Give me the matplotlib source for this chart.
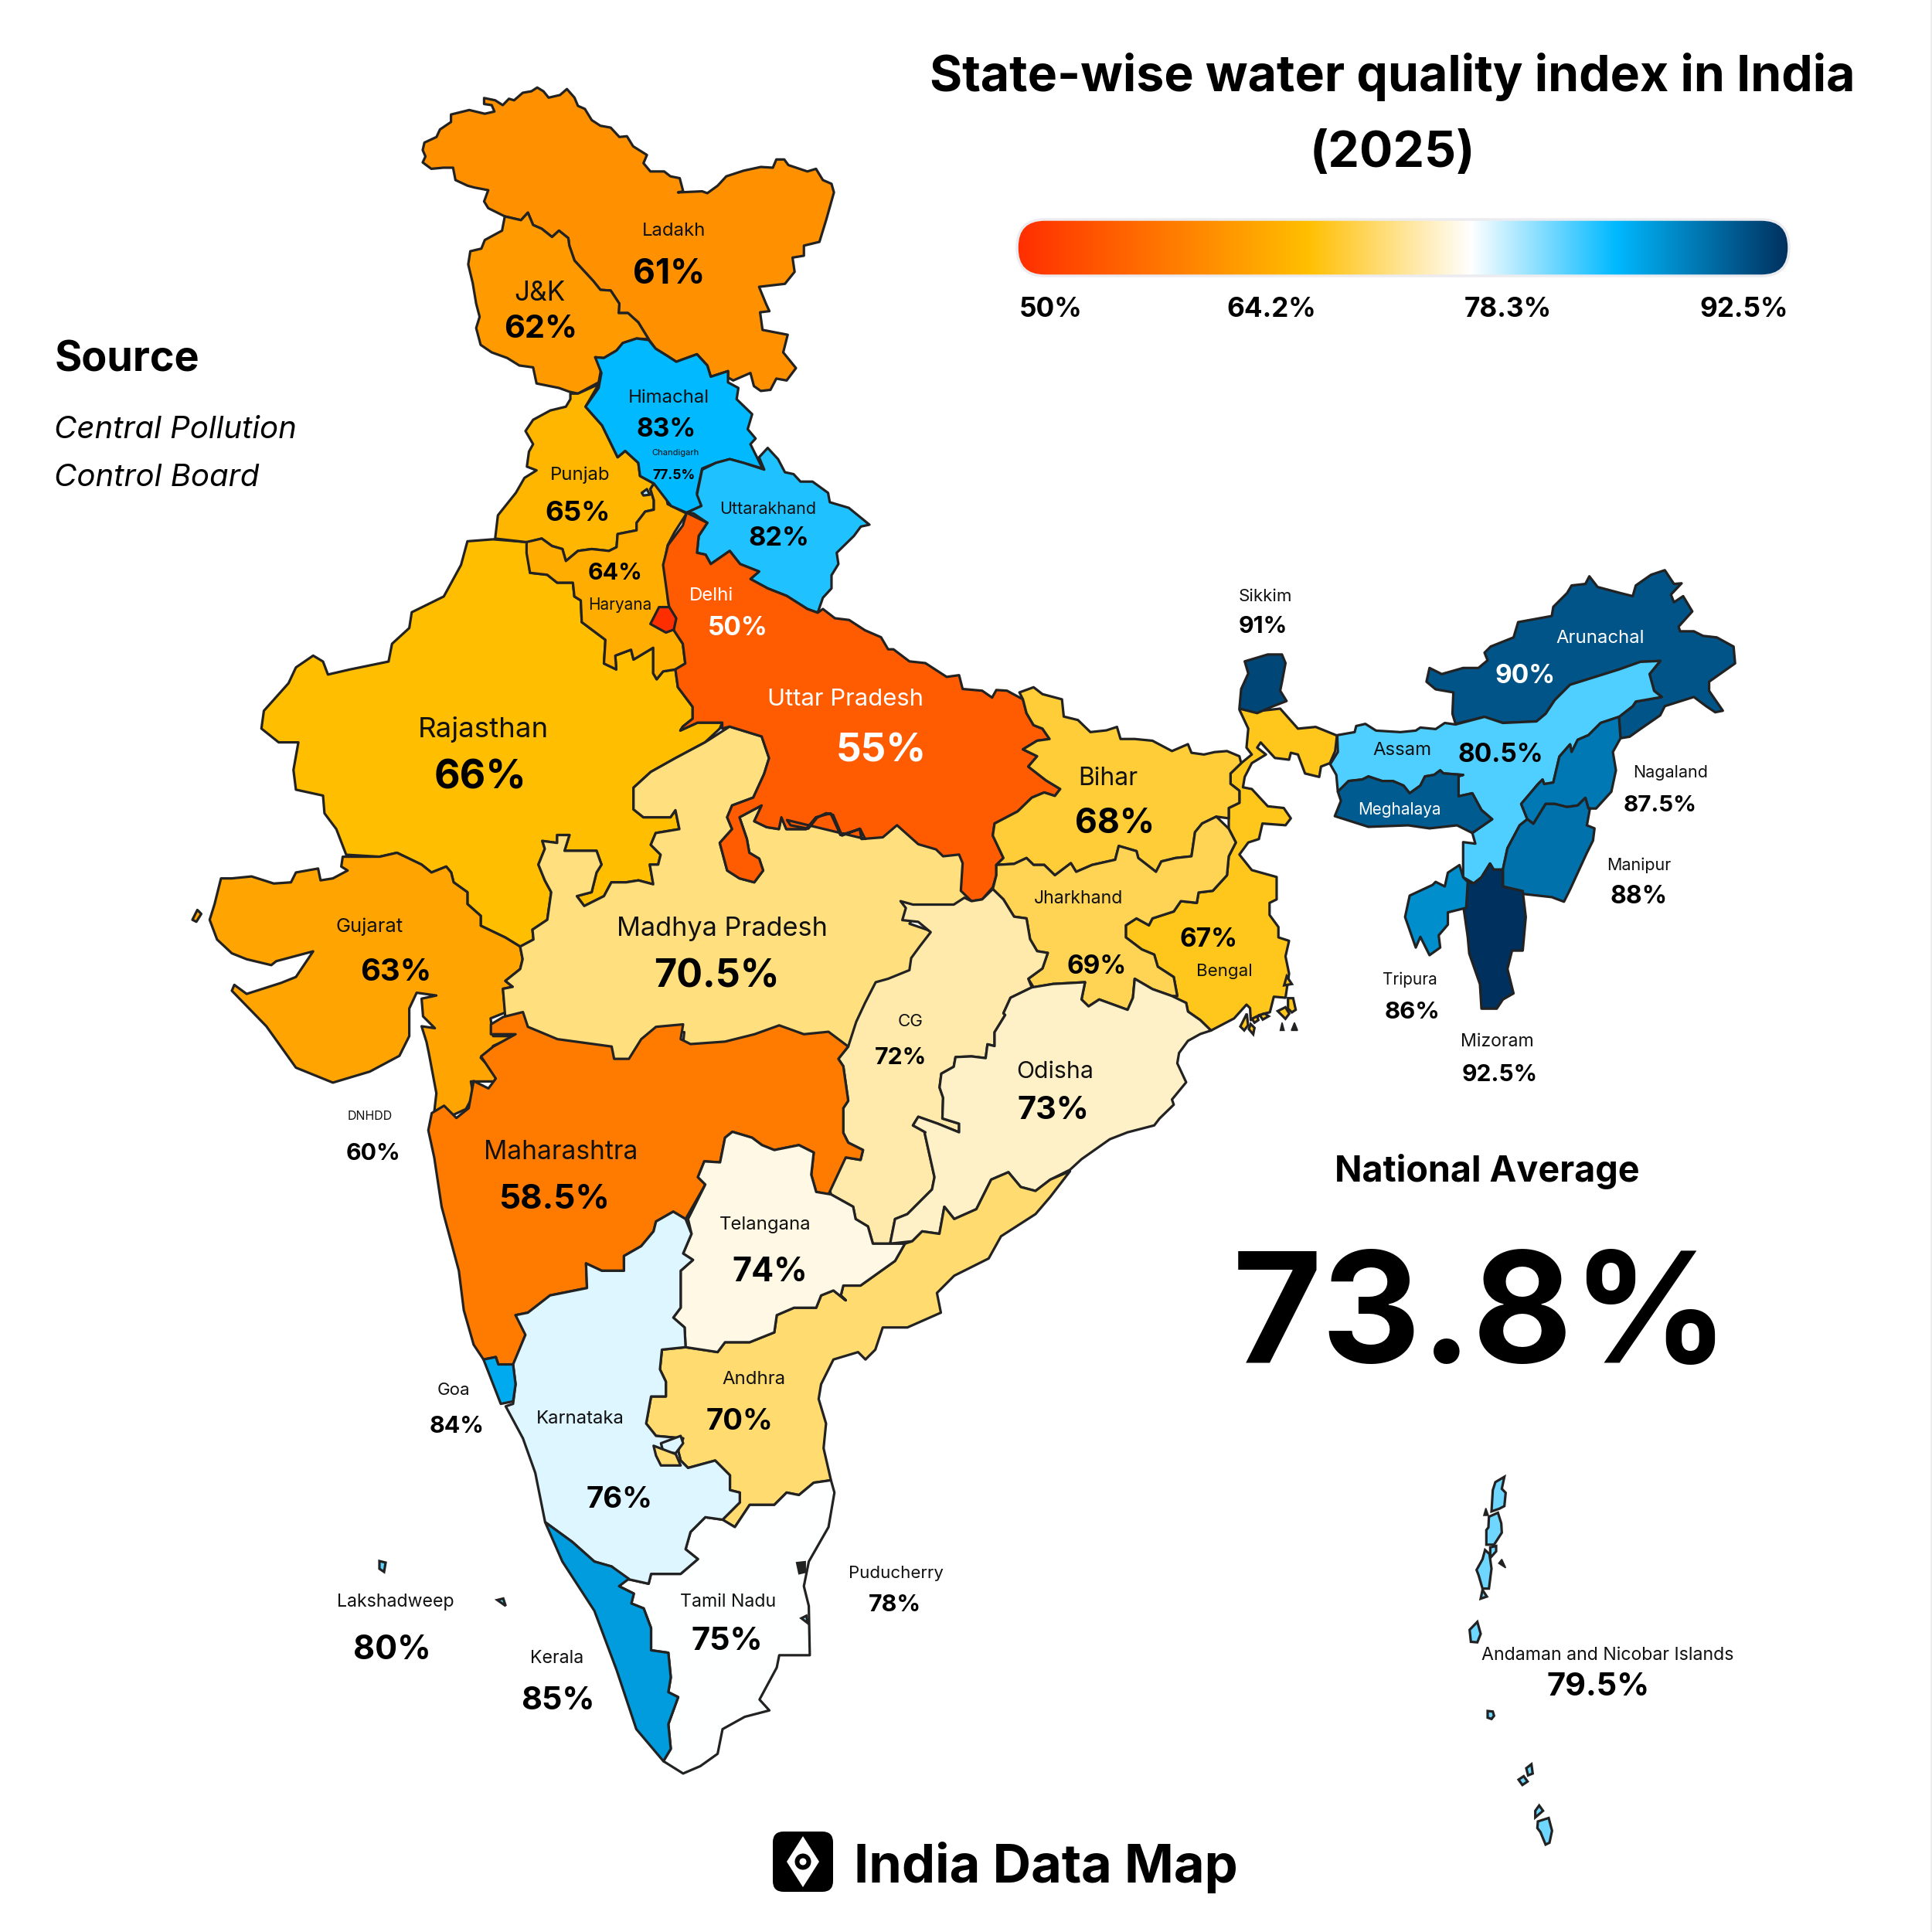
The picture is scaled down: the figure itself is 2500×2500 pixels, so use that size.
"""State-wise water quality index map of India."""

import numpy as np
import matplotlib
matplotlib.use("Agg")
import matplotlib.pyplot as plt
from matplotlib.colors import LinearSegmentedColormap, Normalize
from matplotlib.patches import Circle, FancyBboxPatch, Polygon

plt.rcParams["font.family"] = ["Inter", "Liberation Sans", "DejaVu Sans"]

TITLE = "State-wise water quality index in India\n(2025)"
LEGEND_TICKS = ["50%", "64.2%", "78.3%", "92.5%"]
NATIONAL_AVERAGE = "73.8%"

# index value per state / UT
VALUES = {
    "Ladakh": 61, "J&K": 62, "Himachal": 83, "Chandigarh": 77.5, "Punjab": 65,
    "Uttarakhand": 82, "Haryana": 64, "Delhi": 50, "Uttar Pradesh": 55,
    "Rajasthan": 66, "Bihar": 68, "Sikkim": 91, "Arunachal": 90, "Assam": 80.5,
    "Meghalaya": 89.5, "Nagaland": 87.5, "Manipur": 88, "Tripura": 86,
    "Mizoram": 92.5, "Gujarat": 63, "Madhya Pradesh": 70.5, "Jharkhand": 69,
    "Bengal": 67, "CG": 72, "Odisha": 73, "DNHDD": 60, "Maharashtra": 58.5,
    "Telangana": 74, "Andhra": 70, "Goa": 84, "Karnataka": 76, "Lakshadweep": 80,
    "Kerala": 85, "Tamil Nadu": 75, "Puducherry": 78, "Andaman": 79.5,
}

# colour stops
STOP_VALUES = [50, 66, 75, 83, 92.5]
STOP_COLORS = ["#FF2E00", "#FFBF00", "#FFFFFF", "#00B9FF", "#00305E"]


# outlines were traced on enlarged crops, each helper maps a crop back to the page
def c1(pts):
    return [(480 + x / 2.24, 90 + y / 2.063) for x, y in pts]


def c2(pts):
    return [(300 + x / 1.568, 680 + y / 1.96) for x, y in pts]


def c3(pts):
    return [(1000 + x / 2.178, 800 + y / 2.24) for x, y in pts]


def c4(pts):
    return [(530 + x / 1.568, 1300 + y / 1.568) for x, y in pts]


def c5(pts):
    return [(1660 + x / 2.529, 720 + y / 2.529) for x, y in pts]


def c8(pts):
    return [(1850 + x / 3, 1880 + y / 2.904) for x, y in pts]


def c9(pts):
    return [(1560 + x / 3, 1230 + y / 3) for x, y in pts]


LADAKH = c1([(150,215),(155,195),(190,180),(200,160),(232,140),(232,120),(285,108),(330,118),(358,112),(350,95),(328,92),(328,76),(360,82),(382,95),(400,78),(415,82),(440,62),(465,58),(482,48),(500,58),(515,75),(548,68),(568,52),(590,75),(600,97),(620,105),(640,135),(665,150),(695,155),(720,180),(742,178),(760,205),(800,228),(790,250),(810,272),(850,272),(868,285),(895,290),(905,325),(890,328),(960,325),(975,330),(1005,310),(1030,285),(1080,270),(1130,260),(1165,262),(1175,240),(1198,240),(1210,255),(1265,272),(1290,265),(1310,295),(1335,305),(1342,328),(1320,400),(1300,460),(1255,470),(1255,497),(1222,502),(1228,540),(1200,572),(1125,580),(1145,625),(1155,645),(1128,648),(1135,695),(1208,708),(1195,755),(1232,797),(1205,830),(1175,825),(1158,855),(1130,858),(1110,845),(1100,810),(1050,830),(1035,822),(1035,805),(985,820),(975,790),(945,760),(885,780),(860,765),(825,745),(805,720),(775,675),(745,650),(718,650),(720,625),(695,590),(665,588),(645,565),(590,510),(575,470),(572,450),(545,430),(525,447),(495,425),(470,415),(455,382),(435,402),(388,392),(340,370),(328,352),(340,322),(300,315),(280,310),(245,295),(238,262),(210,262),(175,265),(150,248),(158,232)])
JK = c1([(388,392),(435,402),(455,382),(470,415),(495,425),(525,447),(545,430),(572,450),(575,470),(590,510),(645,565),(665,588),(695,590),(720,625),(718,650),(745,650),(775,675),(805,720),(770,718),(730,730),(712,750),(675,770),(650,768),(668,795),(660,835),(600,865),(575,860),(545,850),(480,838),(470,795),(430,790),(395,770),(350,755),(318,735),(305,690),(315,660),(305,625),(295,570),(282,520),(288,485),(320,478),(330,455),(380,430)])
HIMACHAL = c1([(650,768),(675,770),(712,750),(730,730),(770,718),(805,722),(825,745),(860,765),(885,780),(945,760),(975,790),(985,820),(1035,805),(1035,835),(1065,850),(1060,880),(1105,920),(1092,960),(1115,985),(1100,1000),(1135,1065),(1080,1050),(1040,1040),(1000,1050),(960,1065),(945,1130),(958,1165),(915,1183),(870,1165),(820,1105),(780,1085),(775,1050),(737,1018),(715,1035),(670,950),(622,900),(660,850),(668,810)])
UTTARAKHAND = c1([(945,1135),(960,1068),(1000,1050),(1040,1040),(1080,1050),(1140,1068),(1125,1035),(1150,1010),(1180,1040),(1200,1075),(1225,1080),(1245,1100),(1280,1100),(1325,1130),(1330,1155),(1385,1170),(1445,1215),(1420,1220),(1400,1245),(1350,1290),(1355,1320),(1335,1350),(1335,1385),(1310,1410),(1295,1450),(1265,1440),(1205,1405),(1150,1385),(1100,1360),(1125,1340),(1070,1320),(1040,1285),(985,1320),(970,1295),(945,1290),(950,1245),(975,1210),(935,1185),(915,1183),(958,1165)])
PUNJAB = c1([(578,865),(600,865),(660,840),(622,900),(670,950),(715,1035),(737,1018),(775,1050),(780,1085),(820,1105),(810,1120),(820,1150),(820,1175),(795,1180),(770,1210),(770,1230),(715,1240),(712,1275),(690,1285),(640,1280),(600,1285),(565,1312),(555,1280),(525,1272),(495,1252),(455,1262),(360,1252),(368,1190),(420,1130),(445,1090),(480,1070),(452,1060),(458,1020),(470,1000),(448,965),(470,935),(520,910),(565,900),(578,880)])
CHANDIGARH = c1([(785,1130),(800,1120),(808,1135),(790,1137)])
HARYANA = (c1([(820,1105),(855,1135),(860,1160),(915,1185),(880,1235),(860,1270),(850,1320),(860,1370)])
           + c2([(885,190),(895,262),(915,300),(920,350),(900,365),(875,370),(862,390),(855,375),(855,310),(815,340),(810,315),(778,330),(780,365),(755,350),(758,290),(710,245),(708,190),(695,180),(692,145),(660,145),(640,125),(605,120),(598,70),(598,42)])
           + c1([(495,1252),(525,1272),(555,1280),(565,1312),(600,1285),(640,1280),(690,1285),(712,1275),(715,1240),(770,1230),(770,1210),(795,1180),(820,1175),(820,1150),(810,1120)]))
DELHI = c1([(835,1435),(865,1435),(885,1465),(878,1495),(855,1503),(810,1480)])
RAJASTHAN = c2([(478,40),(530,35),(598,42),(605,120),(640,125),(660,145),(692,145),(695,180),(708,190),(710,245),(758,290),(755,350),(780,365),(778,330),(810,315),(815,340),(855,310),(855,375),(862,390),(875,370),(900,365),(905,410),(935,460),(935,490),(915,510),(910,520),(945,500),(995,500),(990,515),(960,550),(900,590),(850,625),(815,665),(815,720),(835,740),(890,740),(900,722),(908,770),(860,780),(850,810),(870,835),(865,860),(848,860),(855,910),(825,900),(800,905),(770,905),(755,940),(715,965),(700,940),(730,930),(740,880),(750,860),(740,825),(675,825),(685,785),(660,785),(660,805),(630,800),(635,820),(622,860),(635,900),(648,930),(640,1000),(610,1025),(612,1050),(585,1068),(555,1045),(505,1015),(505,990),(478,960),(478,930),(450,905),(445,880),(435,865),(405,880),(385,860),(335,830),(300,840),(232,835),(212,770),(188,730),(185,685),(130,670),(125,620),(135,550),(95,550),(60,515),(65,470),(115,400),(130,360),(165,330),(185,345),(195,378),(240,365),(318,345),(325,300),(360,260),(365,220),(430,180),(465,100)])
GUJARAT = c2([(225,840),(300,840),(335,830),(385,860),(405,880),(435,865),(445,880),(450,905),(478,930),(478,960),(505,990),(505,1015),(555,1045),(585,1068),(590,1100),(585,1125),(555,1155),(570,1170),(550,1175),(555,1235),(525,1250),(530,1295),(575,1295),(530,1320),(520,1350),(505,1350),(535,1390),(535,1410),(485,1410),(490,1445),(475,1480),(440,1500),(425,1480),(410,1495),(415,1440),(400,1340),(395,1310),(385,1270),(412,1275),(388,1245),(385,1200),(415,1192),(375,1185),(360,1225),(360,1295),(340,1345),(280,1385),(205,1413),(130,1375),(70,1270),(0,1180),(5,1165),(30,1188),(100,1160),(130,1145),(165,1080),(90,1105),(80,1115),(30,1100),(0,1085),(-30,1050),(-45,1000),(-35,960),(-22,895),(0,895),(40,890),(85,908),(120,905),(130,880),(175,870),(180,900),(205,895),(235,875),(222,865)])
GUJARAT_ISLET = c2([(-80,1000),(-70,975),(-62,985),(-72,1005)])
# the southern and eastern edge runs under Maharashtra, CG and Uttar Pradesh
MADHYA = c2([(1010,510),(1075,535),(1090,590),(1080,630),(1058,690),(1015,710),(1005,740),(1015,770),(990,805),(1005,875),(1030,895),(1060,905),(1078,875),(1070,845),(1050,830),(1045,795),(1030,740),(1075,710),(1060,750),(1085,765),(1110,770),(1115,740),(1125,770),(1165,770),(1185,740),(1215,730),(1235,785),(1275,770),(1285,770),(1310,770),(1325,740),(1350,740),(1395,780),(1425,800),(1445,820),(1480,835),(1500,860),(1500,930),(1480,975),(1450,985),(1410,990),(1385,990),(1375,1010),(1410,1025),(1435,1040),(1430,1065),(1410,1080),(1390,1115),(1365,1155),(1325,1170),(1310,1220),(1285,1265),(1270,1345),(1210,1310),(1130,1305),(1105,1300),(1020,1320),(960,1340),(915,1320),(918,1285),(885,1285),(845,1300),(825,1360),(780,1375),(770,1345),(660,1325),(600,1290),(585,1245),(555,1250),(550,1175),(570,1170),(555,1155),(585,1125),(590,1100),(585,1068),(612,1050),(610,1025),(640,1000),(648,930),(635,900),(622,860),(635,820),(630,800),(660,805),(660,785),(685,785),(675,825),(740,825),(750,860),(740,880),(730,930),(700,940),(715,965),(755,940),(770,905),(800,905),(825,900),(855,910),(848,860),(865,860),(870,835),(850,810),(860,780),(908,770),(900,722),(890,740),(835,740),(815,720),(815,665),(850,625),(900,590),(960,550)])
UTTAR = (c1([(915,1183),(975,1210),(950,1245),(945,1290),(970,1295),(985,1320),(1040,1285),(1070,1320),(1125,1340),(1100,1360),(1150,1385),(1205,1405),(1265,1440),(1295,1450),(1310,1440)])
         + c3([(175,0),(215,5),(260,35),(305,55),(325,90),(340,90),(385,125),(430,130),(490,170),(525,165),(535,205),(590,210),(618,230),(630,208),(660,210),(705,235),(715,275),(735,310),(760,320),(780,350),(745,355),(705,380),(745,400),(720,430),(770,470),(810,495),(795,515),(765,505),(730,520),(690,560),(625,595),(620,630),(650,695),(630,715),(630,745),(620,780),(590,815),(560,820),(530,790),(535,710),(525,685),(480,690),(460,670),(410,655),(350,600),(310,635),(250,640),(245,610),(195,630),(170,570),(150,565),(125,578),(100,610),(50,600),(40,585)])
         + c2([(1285,795),(1275,770),(1235,785),(1215,730),(1185,740),(1165,770),(1125,770),(1115,740),(1110,770),(1085,765),(1060,750),(1075,710),(1030,740),(1045,795),(1050,830),(1070,845),(1078,875),(1060,905),(1030,895),(1005,875),(990,805),(1015,770),(1005,740),(1015,710),(1058,690),(1080,630),(1090,590),(1075,535),(1010,510),(995,515),(995,500),(945,500),(910,520),(915,510),(935,490),(935,460),(905,410),(900,365),(920,350),(915,300),(895,262),(885,190),(875,100),(885,50),(915,0)]))
BIHAR = c3([(695,215),(735,200),(760,220),(815,235),(820,285),(860,295),(895,330),(940,325),(970,315),(980,350),(1020,350),(1070,355),(1125,385),(1170,365),(1180,390),(1215,395),(1245,388),(1280,385),(1315,400),(1320,420),(1290,450),(1290,480),(1315,500),(1315,535),(1285,550),(1285,580),(1250,575),(1210,595),(1190,620),(1180,690),(1135,695),(1095,705),(1080,735),(1030,695),(1025,675),(975,660),(965,700),(900,715),(855,735),(840,710),(795,745),(765,715),(735,715),(715,695),(680,712),(630,715),(650,695),(620,630),(625,595),(690,560),(730,520),(765,505),(795,515),(810,495),(770,470),(720,430),(745,400),(705,380),(745,355),(780,350),(760,320),(735,310),(715,275),(705,235)])
JHARKHAND = c3([(630,715),(680,712),(715,695),(735,715),(765,715),(795,745),(840,710),(855,735),(900,715),(965,700),(975,660),(1025,675),(1030,695),(1080,735),(1095,705),(1135,695),(1180,690),(1190,620),(1210,595),(1250,575),(1285,610),(1305,650),(1285,690),(1280,745),(1240,790),(1200,795),(1195,825),(1150,820),(1130,850),(1070,870),(1060,890),(1025,870),(995,890),(995,925),(1040,960),(1075,975),(1085,1010),(1130,1040),(1140,1095),(1125,1095),(1070,1075),(1020,1045),(1015,1100),(1000,1135),(920,1105),(890,1125),(870,1105),(880,1055),(790,1060),(735,1070),(720,1045),(760,1015),(775,970),(745,965),(725,930),(715,870),(680,865),(650,815),(620,785),(630,745)])
BENGAL = c3([(995,890),(1025,870),(1060,890),(1070,870),(1130,850),(1150,820),(1195,825),(1200,795),(1240,790),(1280,745),(1285,690),(1305,650),(1285,610),(1285,580),(1285,550),(1315,535),(1315,500),(1290,480),(1290,450),(1320,420),(1350,395),(1335,375),(1340,320),(1315,265),(1325,255),(1360,270),(1430,262),(1480,320),(1530,315),(1590,340),(1585,385),(1570,420),(1545,430),(1540,460),(1500,450),(1480,395),(1460,390),(1455,410),(1415,405),(1375,360),(1365,375),(1390,395),(1350,420),(1330,460),(1325,490),(1350,495),(1395,545),(1440,550),(1460,580),(1445,600),(1380,595),(1370,640),(1340,650),(1315,685),(1350,730),(1420,750),(1420,815),(1400,825),(1400,860),(1425,895),(1425,925),(1455,935),(1445,980),(1455,1030),(1445,1100),(1412,1097),(1401,1142),(1381,1147),(1347,1165),(1345,1130),(1335,1120),(1300,1160),(1235,1195),(1205,1165),(1170,1140),(1165,1115),(1130,1100),(1140,1095),(1130,1040),(1085,1010),(1075,975),(1040,960),(995,925)])
BENGAL_ISLETS = [
    c9([(315,100),(335,130),(305,135)]),
    c9([(160,245),(135,295),(150,310),(165,290)]),
    c9([(175,285),(190,300),(185,325),(168,305)]),
    c9([(180,265),(200,255),(205,270),(190,280)]),
    c9([(210,250),(230,245),(245,255),(222,268)]),
    c9([(280,235),(310,220),(325,245),(310,265)]),
    c9([(320,185),(340,185),(350,230),(335,240),(320,225)]),
]
BENGAL_DOTS = [c9([(290,310),(297,280),(305,310)]), c9([(333,310),(345,280),(357,310)])]
SIKKIM = c3([(1330,125),(1395,105),(1435,105),(1445,130),(1435,185),(1430,210),(1448,240),(1410,255),(1365,275),(1315,262),(1320,205),(1340,160)])
CHHATTISGARH = (c3([(360,820),(395,830),(510,830),(540,810),(560,820),(590,815),(620,785),(650,815),(680,865),(715,870),(725,930),(745,965),(775,970),(760,1015),(720,1045),(730,1070),(670,1100),(650,1145),(655,1150),(625,1200),(625,1240),(605,1235),(600,1275),(560,1270),(515,1272),(510,1300),(475,1320),(470,1360),(480,1390),(478,1450),(525,1465),(525,1490),(465,1465),(410,1445),(395,1470),(430,1490)])
                + c4([(1045,260),(1065,350),(1060,375),(1010,425),(985,435),(975,485),(940,485),(930,450),(905,435),(900,410),(855,385),(850,365),(885,310),(915,315),(920,295),(890,280),(880,260),(880,210),(890,195),(880,125),(870,110),(890,85)])
                + c3([(235,1170),(260,1115),(290,1055),(325,1045),(385,1020),(390,985),(415,950),(445,910),(410,880),(365,875),(375,840)]))
ODISHA = (c3([(730,1070),(790,1060),(880,1055),(870,1105),(890,1125),(920,1105),(1000,1135),(1015,1100),(1020,1045),(1070,1075),(1125,1095),(1165,1115),(1170,1140),(1205,1165),(1235,1195),(1205,1205),(1170,1225),(1145,1260),(1140,1290),(1165,1345),(1125,1395),(1130,1410),(1090,1450),(1075,1470),(1000,1490),(950,1510),(870,1568)])
          + c4([(1340,335),(1300,355),(1270,378),(1240,370),(1215,340),(1180,355),(1150,415),(1105,435),(1085,410),(1075,465),(1040,460),(1020,480),(975,485),(985,435),(1010,425),(1060,375),(1065,350),(1045,260)])
          + c3([(430,1490),(395,1470),(410,1445),(465,1465),(525,1490),(525,1465),(478,1450),(480,1390),(470,1360),(475,1320),(510,1300),(515,1272),(560,1270),(600,1275),(605,1235),(625,1240),(625,1200),(655,1150),(650,1145),(670,1100)]))
MAHARASHTRA = c4([(165,40),(165,60),(215,60),(170,85),(145,105),(175,150),(160,170),(130,155),(120,210),(95,230),(70,205),(45,220),(38,255),(50,310),(65,410),(100,540),(110,620),(130,690),(150,720),(175,715),(180,730),(210,730),(215,720),(235,670),(235,660),(215,630),(240,625),(285,590),(360,575),(358,525),(390,540),(435,540),(435,510),(470,490),(495,460),(500,440),(535,420),(560,435),(600,365),(585,350),(598,318),(630,320),(640,270),(655,258),(695,270),(715,285),(740,295),(790,285),(820,300),(815,345),(825,380),(850,385),(885,310),(915,315),(920,295),(890,280),(880,260),(880,210),(890,195),(880,125),(870,110),(890,85),(850,55),(800,60),(750,42),(700,60),(640,75),(570,80),(550,70),(555,40),(500,45),(470,70),(445,110),(415,110),(410,85),(300,70),(240,45),(230,15),(190,25)])
TELANGANA = c4([(655,258),(695,270),(715,285),(740,295),(790,285),(820,300),(815,345),(825,380),(855,385),(900,410),(905,435),(930,450),(940,485),(1005,485),(985,520),(950,545),(915,570),(880,570),(875,590),(885,600),(860,580),(835,590),(825,615),(780,615),(745,630),(740,665),(690,685),(640,685),(625,705),(560,695),(558,655),(535,635),(550,615),(550,540),(575,518),(555,505),(572,465),(565,435),(600,365),(585,350),(598,318),(630,320),(640,270)])
ANDHRA = c4([(1340,338),(1300,390),(1270,425),(1200,470),(1175,515),(1105,550),(1070,585),(1078,625),(1010,655),(960,655),(945,700),(925,720),(910,705),(860,720),(835,770),(830,800),(845,850),(840,900),(855,965),(820,970),(790,995),(765,990),(740,1015),(690,1015),(660,1060),(635,1045),(670,1010),(670,990),(650,985),(650,955),(620,925),(565,940),(550,925),(545,905),(555,880),(500,875),(480,850),(490,795),(520,795),(520,765),(508,740),(512,700),(560,695),(625,705),(640,685),(690,685),(740,665),(745,630),(780,615),(825,615),(835,590),(860,580),(885,600),(875,590),(880,570),(915,570),(950,545),(985,520),(1005,485),(1020,480),(1040,460),(1075,465),(1085,410),(1105,435),(1150,415),(1180,355),(1215,340),(1240,370),(1270,378),(1300,355)])
KARNATAKA = c4([(535,420),(560,435),(572,465),(555,505),(575,518),(550,540),(550,615),(535,635),(558,655),(560,695),(512,700),(508,740),(520,765),(520,795),(490,795),(480,850),(500,875),(555,880),(545,905),(550,925),(565,940),(620,925),(650,955),(650,985),(670,990),(670,1010),(635,1045),(600,1040),(570,1070),(560,1105),(585,1125),(550,1155),(490,1155),(485,1175),(440,1165),(410,1140),(375,1130),(330,1090),(275,1050),(255,950),(230,880),(195,815),(210,810),(215,770),(210,730),(235,670),(215,630),(240,625),(285,590),(360,575),(358,525),(390,540),(435,540),(435,510),(470,490),(495,460),(500,440)])
KARNATAKA_POCKET = c4([(510,890),(550,875),(555,890),(540,910),(515,908)])
ANDHRA_POCKET = c4([(495,895),(540,912),(550,935),(510,935),(500,915)])
GOA = c4([(150,720),(175,715),(180,730),(210,730),(215,770),(210,805),(185,810)])
KERALA = c4([(275,1050),(330,1090),(375,1130),(410,1140),(445,1165),(425,1180),(455,1195),(450,1215),(475,1225),(490,1265),(490,1310),(525,1315),(530,1365),(525,1395),(545,1405),(525,1460),(530,1510),(515,1535),(460,1470),(420,1350),(375,1230),(310,1130)])
TAMIL = c4([(425,1180),(440,1165),(485,1175),(490,1155),(550,1155),(585,1125),(560,1105),(570,1070),(600,1040),(635,1045),(660,1060),(690,1015),(740,1015),(765,990),(790,995),(820,970),(855,965),(862,990),(850,1060),(810,1130),(800,1180),(810,1220),(812,1320),(750,1320),(745,1345),(710,1410),(730,1432),(680,1445),(635,1470),(625,1520),(590,1545),(555,1560),(515,1535),(530,1510),(525,1460),(545,1405),(525,1395),(530,1365),(525,1315),(490,1310),(490,1265),(475,1225),(450,1215),(455,1195)])
PUDUCHERRY = [c4([(785,1132),(803,1130),(803,1152),(790,1155)])]
PUDUCHERRY_SOUTH = [c4([(795,1245),(805,1240),(808,1255)])]
ARUNACHAL = c5([(480,365),(520,385),(590,365),(640,365),(670,340),(660,315),(680,295),(755,265),(770,215),(880,195),(885,165),(930,120),(945,95),(990,90),(1003,65),(1030,100),(1105,120),(1145,130),(1155,95),(1205,60),(1250,45),(1280,90),(1305,88),(1270,125),(1280,150),(1310,130),(1340,180),(1295,230),(1300,245),(1345,245),(1375,260),(1420,265),(1475,295),(1480,350),(1395,410),(1395,440),(1440,505),(1415,510),(1385,490),(1345,460),(1250,490),(1235,520),(1170,565),(1135,590),(1105,595),(1100,525),(1145,490),(1155,475),(1240,460),(1215,440),(1200,385),(1235,342),(1170,345),(1100,370),(1020,395),(940,420),(890,470),(860,515),(830,540),(720,545),(660,525),(565,548),(555,515),(558,445),(500,435),(470,410)])
ASSAM = c5([(178,585),(235,575),(240,555),(270,548),(305,570),(385,575),(435,570),(450,560),(500,565),(530,545),(565,550),(660,525),(720,545),(830,540),(860,515),(890,470),(940,420),(1020,395),(1100,370),(1170,345),(1235,342),(1200,385),(1215,440),(1240,460),(1155,475),(1145,490),(1100,525),(1040,545),(1000,585),(965,600),(945,640),(940,615),(905,655),(885,740),(855,745),(850,730),(835,745),(780,810),(800,860),(775,880),(735,955),(720,1025),(690,1025),(678,1005),(650,1050),(625,1070),(590,1050),(590,1000),(590,935),(630,940),(620,905),(685,860),(650,830),(620,775),(575,785),(575,715),(590,715),(525,710),(515,700),(495,715),(465,720),(450,750),(415,775),(395,750),(360,735),(325,735),(280,720),(260,730),(215,735),(180,770),(175,715),(155,680),(180,640)])
MEGHALAYA = c5([(180,770),(215,735),(260,730),(280,720),(325,735),(360,735),(395,750),(415,775),(450,750),(465,720),(495,715),(515,700),(525,710),(590,715),(575,720),(575,785),(620,775),(650,830),(685,860),(620,905),(570,880),(480,890),(410,880),(280,885),(170,850),(190,800)])
NAGALAND = c5([(1100,525),(1105,595),(1080,640),(1090,700),(1075,770),(1025,825),(1000,825),(990,790),(965,815),(930,820),(890,810),(860,810),(820,875),(800,860),(780,810),(835,745),(850,730),(855,745),(885,740),(905,655),(940,615),(945,640),(965,600),(1000,585),(1040,545)])
MANIPUR = c5([(860,810),(890,810),(930,820),(965,815),(990,790),(1000,825),(1005,825),(995,880),(1020,890),(1015,930),(995,970),(940,1090),(920,1130),(880,1115),(790,1105),(720,1080),(720,1025),(735,955),(775,880),(800,860),(820,875)])
MIZORAM = c5([(678,1005),(690,1025),(720,1025),(720,1080),(785,1095),(795,1180),(785,1290),(750,1290),(735,1350),(755,1430),(720,1450),(700,1480),(650,1480),(645,1400),(610,1300),(605,1245),(590,1140),(605,1065),(625,1070),(650,1050)])
TRIPURA = c5([(578,1010),(590,1050),(605,1065),(600,1150),(540,1165),(540,1205),(510,1240),(515,1280),(480,1305),(450,1245),(435,1280),(400,1180),(415,1110),(490,1075),(500,1065),(530,1080),(540,1035)])
ANDAMAN = [
    c8([(290,90),(255,110),(245,140),(240,220),(270,210),(290,200),(295,150),(280,135)]),
    c8([(230,240),(265,225),(278,265),(280,300),(250,345),(220,345),(220,290),(228,280)]),
    c8([(235,355),(258,350),(258,370),(235,395)]),
    c8([(215,365),(232,380),(240,435),(230,510),(205,510),(190,460),(182,440),(205,400)]),
    c8([(205,515),(222,540),(198,548)]),
    c8([(185,635),(198,680),(185,712),(160,710),(155,665)]),
    c8([(225,970),(245,972),(250,988),(240,1000),(225,995)]),
    c8([(345,1228),(365,1215),(380,1235),(360,1248)]),
    c8([(375,1185),(395,1170),(400,1205),(382,1212)]),
    c8([(425,1325),(440,1345),(410,1370),(410,1345)]),
    c8([(420,1385),(462,1372),(475,1420),(465,1465),(450,1472),(430,1425),(418,1410)]),
]
ANDAMAN_DARK = [c8([(218,208),(228,235),(210,235)]), c8([(280,400),(295,432),(268,415)])]
LAKSHADWEEP = [c4([(178,1208),(190,1205),(195,1220)])]
LAKSHADWEEP_NORTH = [[(491, 2020), (499, 2022), (497, 2034), (491, 2030)]]

# draw order matters: later shapes sit on the shared borders of earlier ones
DRAW_ORDER = [
    ("Rajasthan", RAJASTHAN), ("Gujarat", GUJARAT), ("Gujarat", GUJARAT_ISLET),
    ("Ladakh", LADAKH), ("J&K", JK), ("Punjab", PUNJAB), ("Haryana", HARYANA),
    ("Himachal", HIMACHAL), ("Uttarakhand", UTTARAKHAND), ("Madhya Pradesh", MADHYA),
    ("Uttar Pradesh", UTTAR), ("Delhi", DELHI), ("Chandigarh", CHANDIGARH),
    ("Bengal", BENGAL), ("Bihar", BIHAR), ("Jharkhand", JHARKHAND), ("Sikkim", SIKKIM),
    ("CG", CHHATTISGARH), ("Odisha", ODISHA), ("Maharashtra", MAHARASHTRA),
    ("Andhra", ANDHRA), ("Telangana", TELANGANA), ("Tamil Nadu", TAMIL),
    ("Karnataka", KARNATAKA), ("Karnataka", KARNATAKA_POCKET), ("Andhra", ANDHRA_POCKET),
    ("Goa", GOA), ("Kerala", KERALA), ("Arunachal", ARUNACHAL), ("Assam", ASSAM),
    ("Meghalaya", MEGHALAYA), ("Nagaland", NAGALAND), ("Manipur", MANIPUR),
    ("Mizoram", MIZORAM), ("Tripura", TRIPURA),
]

# name label, value label: (x, y, size) in page pixels / 1.594, text colour
LABELS = [
    ("Ladakh", (547,186,15), (543,220,28), "k"), ("J&K", (438,236,22), (439,265,26), "k"),
    ("Himachal", (543,322,15), (541,347,21), "k"), ("Chandigarh", (548,367,7), (547,385,11), "k"),
    ("Punjab", (471,384,15), (469,415,23), "k"), ("Uttarakhand", (623,412,13.5), (632,435,21.5), "k"),
    ("Haryana", (503,490,13), (499,464,19), "k"), ("Delhi", (577,482,15), (599,508,21), "w"),
    ("Uttar Pradesh", (686,566,19.5), (715,607,32), "w"), ("Rajasthan", (392,590,23), (390,629,32.5), "k"),
    ("Bihar", (899,630,20), (905,666,28), "k"), ("Sikkim", (1027,483,14), (1025,507,19), "k"),
    ("Arunachal", (1299,517,15), (1238,547,21), "w"), ("Assam", (1138,608,15), (1218,611,21), "k"),
    ("Meghalaya", (1136,656,13), (1122,694,18.8), "w"), ("Nagaland", (1356,626,13.5), (1347,652,18.5), "k"),
    ("Manipur", (1330,701,13.5), (1330,726,20), "k"), ("Tripura", (1144,794,13), (1146,820,19.5), "k"),
    ("Mizoram", (1215,844,14.5), (1217,871,18.8), "k"), ("Gujarat", (300,751,16), (321,787,25), "k"),
    ("Madhya Pradesh", (586,752,21.5), (582,790,31.5), "k"), ("Jharkhand", (875,728,14.5), (890,783,21), "k"),
    ("Bengal", (994,787,14), (981,761,21), "k"), ("CG", (739,828,14), (731,857,19), "k"),
    ("Odisha", (856,868,19), (855,899,26), "k"), ("DNHDD", (300,905,10), (303,935,19), "k"),
    ("Maharashtra", (455,933,21), (450,971,27.5), "k"), ("Telangana", (621,993,15), (625,1030,27), "k"),
    ("Andhra", (612,1118,15), (600,1152,24), "k"), ("Goa", (368,1127,14), (371,1156,19), "k"),
    ("Karnataka", (471,1150,15), (503,1215,24), "k"), ("Lakshadweep", (321,1299,14.5), (318,1337,27), "k"),
    ("Kerala", (452,1345,14.5), (453,1378,26), "k"), ("Tamil Nadu", (591,1299,14.5), (590,1330,26), "k"),
    ("Puducherry", (727,1276,14), (726,1301,19), "k"), ("Andaman", (1305,1342,14.5), (1297,1367,26), "k"),
]

PAGE = 2500
VIEW = PAGE / 1568
EDGE = "#222222"

stops = [(v - STOP_VALUES[0]) / (STOP_VALUES[-1] - STOP_VALUES[0]) for v in STOP_VALUES]
cmap = LinearSegmentedColormap.from_list("wqi", list(zip(stops, STOP_COLORS)), N=512)
norm = Normalize(STOP_VALUES[0], STOP_VALUES[-1])


def put(ax, x, y, text, px, weight="normal", color="k", ha="center", style="normal"):
    # va="center" sits a little high on digits and capitals, so nudge by the font size
    ax.text(x * VIEW, (y + 0.088 * px) * VIEW, text, fontsize=px * VIEW * 72 / 100,
            fontweight=weight, color=color, ha=ha, va="center", fontstyle=style)


fig = plt.figure(figsize=(25, 25), dpi=100)
ax = fig.add_axes([0, 0, 1, 1])

for name, outline in DRAW_ORDER:
    ax.add_patch(Polygon(outline, closed=True, facecolor=cmap(norm(VALUES[name])),
                         edgecolor=EDGE, linewidth=2.3, joinstyle="round"))
for name, group in [("Bengal", BENGAL_ISLETS), ("Andaman", ANDAMAN),
                    ("Lakshadweep", LAKSHADWEEP), ("Lakshadweep", LAKSHADWEEP_NORTH),
                    ("Puducherry", PUDUCHERRY_SOUTH)]:
    for outline in group:
        ax.add_patch(Polygon(outline, closed=True, facecolor=cmap(norm(VALUES[name])),
                             edgecolor=EDGE, linewidth=2.3))
for outline in BENGAL_DOTS + PUDUCHERRY + ANDAMAN_DARK:
    ax.add_patch(Polygon(outline, closed=True, facecolor=EDGE, edgecolor=EDGE, linewidth=1.2))

for name, (nx, ny, ns), (vx, vy, vs), tone in LABELS:
    color = "white" if tone == "w" else "black"
    put(ax, nx, ny, name if name != "Andaman" else "Andaman and Nicobar Islands", ns,
        color="#111111" if tone == "k" else color)
    put(ax, vx, vy, f"{VALUES[name]:g}%", vs, weight="bold", color=color)

# legend bar
bar = FancyBboxPatch((1316, 284), 999, 73, boxstyle="round,pad=0,rounding_size=36",
                     facecolor="none", edgecolor="#ECECF0", linewidth=2.5, zorder=3)
ax.add_patch(bar)
ramp = ax.imshow(np.linspace(0, 1, 1024)[None, :], cmap=cmap, vmin=0, vmax=1, aspect="auto",
                 extent=(1316, 2315, 357, 284), zorder=2)
ramp.set_clip_path(bar)

for x, tick, ha in zip([827, 1032, 1224, 1451], LEGEND_TICKS, ["left", "center", "center", "right"]):
    put(ax, x, 249, tick, 22, weight="bold", ha=ha)

title_lines = TITLE.split("\n")
put(ax, 1130, 59, title_lines[0], 40.4, weight="bold")
put(ax, 1130, 121, title_lines[1], 40.4, weight="bold")

put(ax, 44, 289, "Source", 33.8, weight="bold", ha="left")
put(ax, 44, 347, "Central Pollution", 25.2, ha="left", style="italic")
put(ax, 44, 386, "Control Board", 25.2, ha="left", style="italic")

put(ax, 1207, 948, "National Average", 29.3, weight="bold")
put(ax, 1202, 1062, NATIONAL_AVERAGE, 125, weight="bold")

# brand mark
ax.add_patch(FancyBboxPatch((1000, 2370), 78, 78, boxstyle="round,pad=0,rounding_size=14",
                            facecolor="black", edgecolor="none"))
ax.add_patch(Polygon([(1039, 2376), (1060, 2409), (1039, 2442), (1018, 2409)], facecolor="white"))
ax.add_patch(Circle((1039, 2409), 10.5, facecolor="black"))
ax.add_patch(Circle((1039, 2409), 4.5, facecolor="white"))
put(ax, 693, 1512, "India Data Map", 43, weight="bold", ha="left")

# faint page edge on the right
ax.axvline(2499, color="#EEEEEE", linewidth=1.4)

ax.set_xlim(0, PAGE)
ax.set_ylim(PAGE, 0)
ax.axis("off")
fig.savefig("out.png", dpi=100, facecolor="white")
plt.close(fig)
